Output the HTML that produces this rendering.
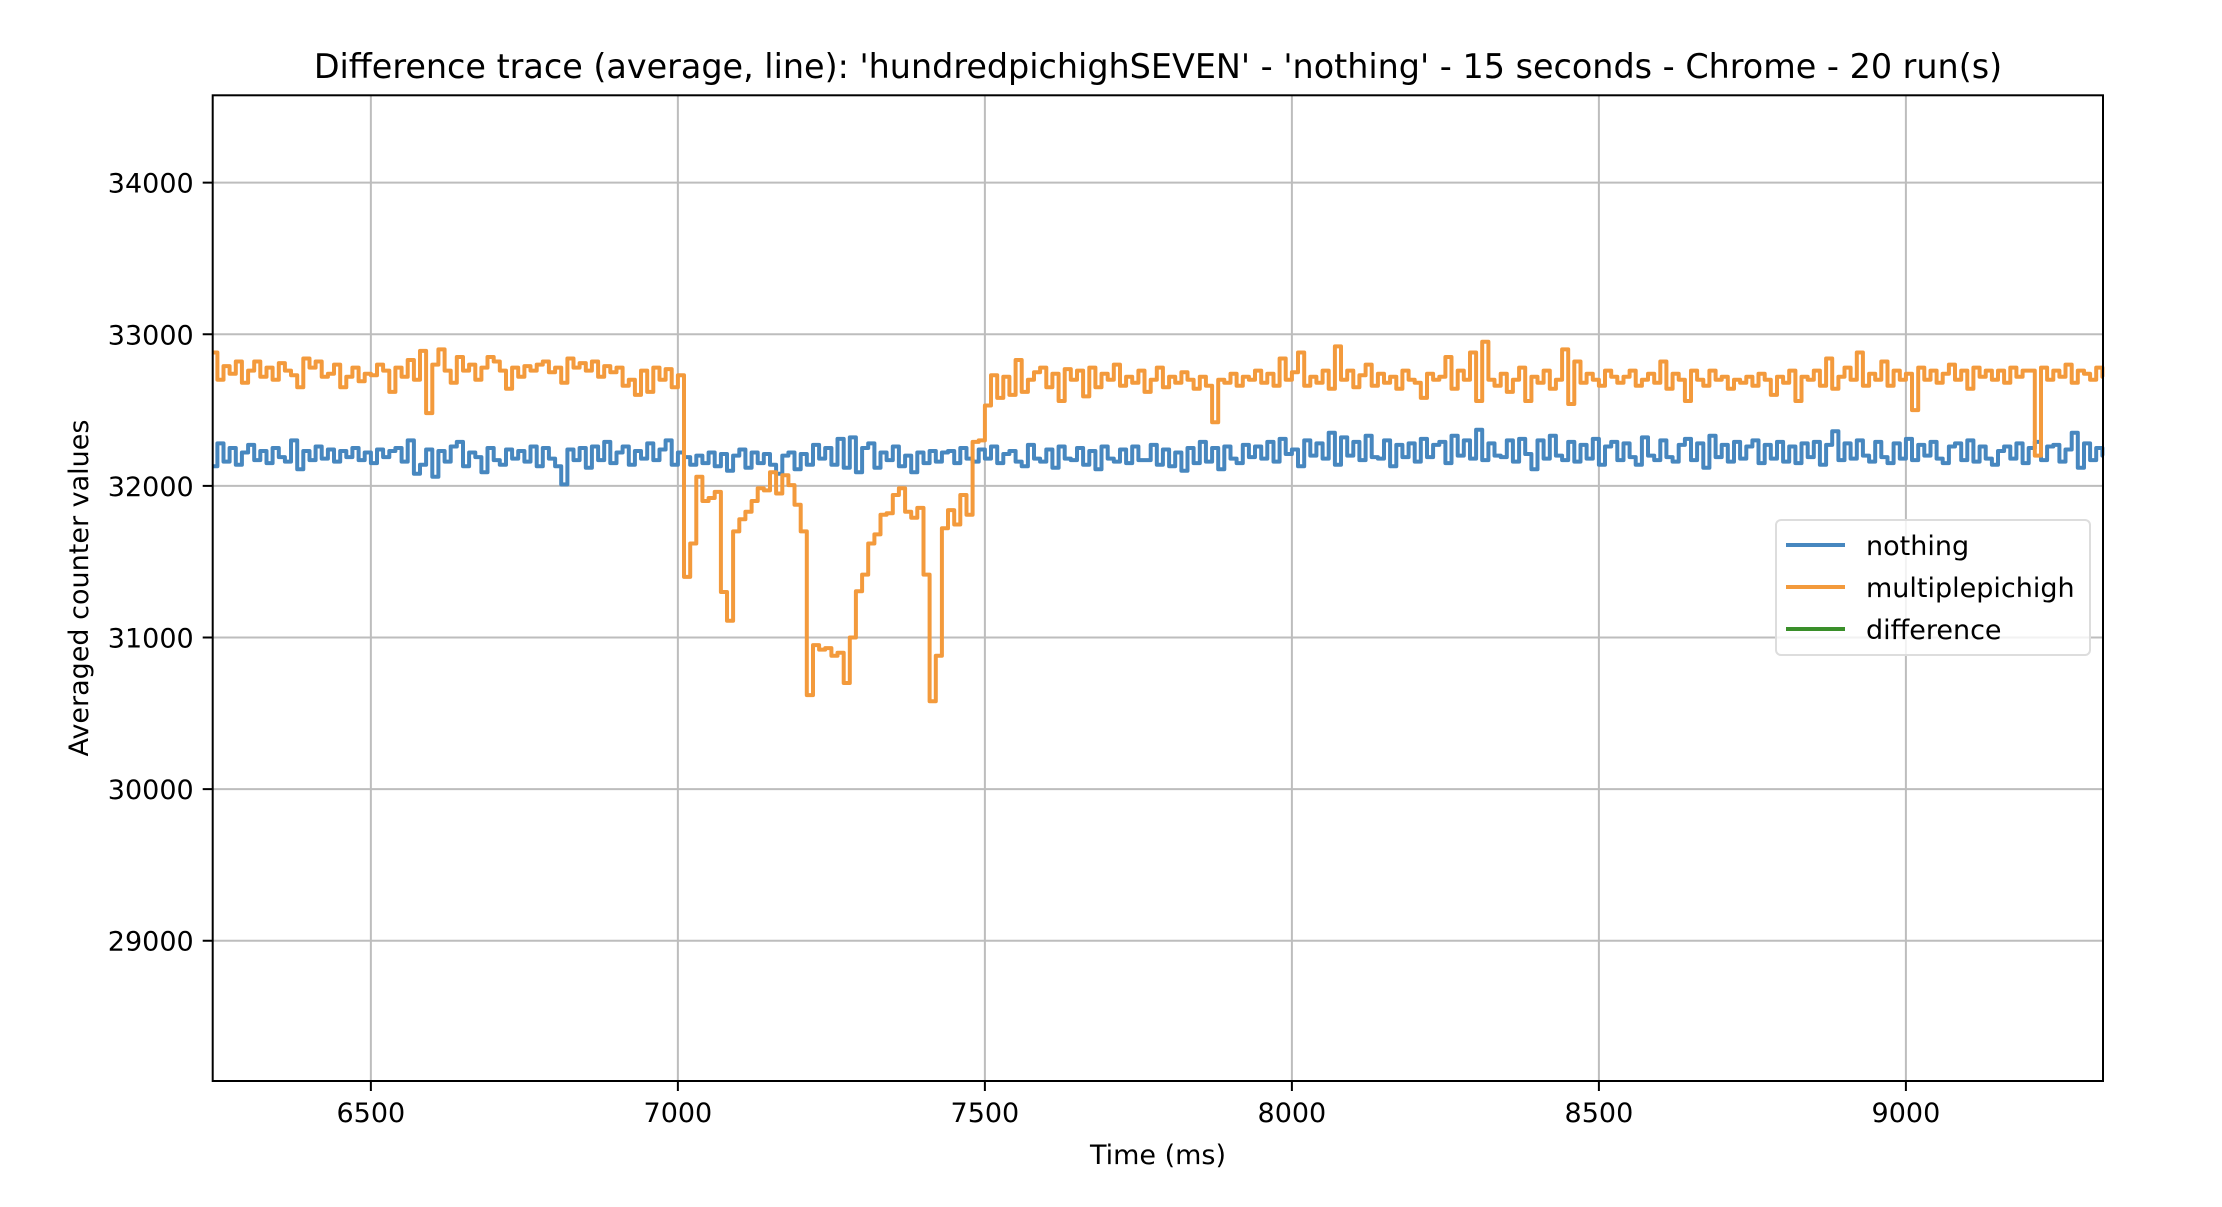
<!DOCTYPE html>
<html><head><meta charset="utf-8"><style>
html,body{margin:0;padding:0;background:#fff;}
svg text{font-family:"DejaVu Sans","Liberation Sans",sans-serif;fill:#000;}
</style></head><body>
<svg id="chart" width="2222" height="1202" viewBox="0 0 2222 1202" xmlns="http://www.w3.org/2000/svg">
<rect width="2222" height="1202" fill="#fff"/>
<text x="1158" y="78" font-size="33.4" text-anchor="middle">Difference trace (average, line): 'hundredpichighSEVEN' - 'nothing' - 15 seconds - Chrome - 20 run(s)</text>
<g id="grid"></g>
<g id="series"></g>
<rect x="212.7" y="95.3" width="1890.3" height="985.7" fill="none" stroke="#000" stroke-width="2"/>
<g id="ticks"></g>
<text x="1158" y="1164" font-size="27" text-anchor="middle">Time (ms)</text>
<text transform="translate(88,588) rotate(-90)" font-size="27" text-anchor="middle">Averaged counter values</text>
<g>
<rect x="1776" y="520" width="314" height="135" rx="5" fill="#fff" fill-opacity="0.8" stroke="#ddd" stroke-width="2"/>
<g><line x1="1786" y1="545" x2="1845" y2="545" stroke="#4787bf" stroke-width="4"/><text x="1866" y="555" font-size="27">nothing</text></g>
<g><line x1="1786" y1="587" x2="1845" y2="587" stroke="#f39a3c" stroke-width="4"/><text x="1866" y="597" font-size="27">multiplepichigh</text></g>
<g><line x1="1786" y1="629" x2="1845" y2="629" stroke="#3a8f2a" stroke-width="4"/><text x="1866" y="639" font-size="27">difference</text></g>
</g>
</svg>
<script>
const startTime = 6240;
const stepMs = 10;
const xTicks = [6500, 7000, 7500, 8000, 8500, 9000];
const yTicks = [29000, 30000, 31000, 32000, 33000, 34000];
const nothingValues = [
32130,32280,32160,32250,32140,32220,32270,32170,32230,32150,
32250,32190,32160,32300,32110,32230,32170,32260,32180,32240,
32160,32230,32190,32250,32170,32220,32150,32240,32190,32230,
32250,32160,32300,32080,32140,32240,32060,32230,32160,32260,
32290,32130,32220,32190,32090,32250,32170,32140,32240,32180,
32230,32160,32260,32130,32250,32180,32130,32010,32240,32170,
32250,32120,32260,32170,32290,32150,32220,32260,32140,32230,
32180,32280,32170,32240,32300,32140,32220,32190,32140,32200,
32150,32220,32130,32210,32100,32200,32240,32120,32220,32150,
32210,32140,32080,32200,32220,32110,32210,32140,32270,32180,
32250,32140,32310,32120,32320,32090,32250,32280,32120,32220,
32170,32260,32130,32200,32090,32220,32150,32230,32160,32220,
32230,32150,32250,32180,32160,32240,32180,32260,32150,32210,
32230,32160,32130,32270,32180,32160,32240,32120,32260,32180,
32170,32250,32140,32230,32110,32260,32180,32160,32240,32150,
32260,32170,32170,32270,32140,32240,32130,32220,32100,32250,
32150,32290,32160,32250,32110,32260,32180,32150,32270,32190,
32260,32180,32290,32160,32310,32210,32240,32130,32300,32200,
32280,32180,32350,32140,32320,32200,32290,32170,32330,32190,
32180,32300,32130,32270,32190,32280,32160,32310,32190,32270,
32290,32150,32330,32200,32300,32180,32370,32170,32280,32200,
32190,32300,32160,32310,32210,32110,32300,32180,32330,32200,
32170,32290,32160,32270,32180,32310,32140,32260,32290,32170,
32280,32190,32140,32320,32200,32170,32300,32190,32160,32270,
32310,32170,32280,32120,32330,32190,32270,32160,32290,32180,
32260,32300,32150,32270,32180,32290,32160,32260,32150,32280,
32190,32290,32140,32270,32360,32170,32280,32180,32300,32200,
32160,32290,32190,32150,32280,32180,32310,32170,32270,32200,
32290,32180,32150,32260,32280,32170,32300,32160,32260,32180,
32140,32230,32260,32180,32280,32150,32250,32290,32170,32260,
32270,32160,32240,32350,32120,32280,32170,32250,32200];
const multipleValues = [
32880,32700,32790,32740,32820,32680,32760,32820,32720,32780,
32700,32810,32760,32730,32650,32840,32780,32820,32720,32740,
32800,32650,32720,32780,32690,32740,32730,32800,32760,32620,
32780,32720,32830,32700,32890,32480,32800,32900,32760,32680,
32850,32760,32800,32700,32780,32850,32820,32760,32640,32780,
32720,32790,32760,32800,32820,32750,32780,32680,32840,32780,
32810,32760,32820,32720,32790,32750,32780,32660,32700,32600,
32760,32620,32780,32700,32770,32650,32730,31400,31620,32060,
31900,31920,31960,31300,31110,31700,31780,31830,31900,31985,
31970,32090,31950,32070,32005,31875,31700,30620,30950,30920,
30930,30880,30900,30700,31000,31305,31415,31620,31680,31810,
31820,31940,31985,31830,31790,31855,31415,30580,30880,31720,
31840,31745,31940,31810,32290,32300,32530,32730,32580,32720,
32600,32830,32620,32700,32750,32780,32650,32740,32560,32770,
32700,32760,32590,32780,32650,32740,32700,32800,32660,32720,
32680,32760,32620,32700,32780,32650,32720,32680,32750,32700,
32640,32720,32660,32420,32700,32680,32740,32660,32720,32700,
32760,32680,32740,32660,32840,32700,32750,32880,32660,32720,
32680,32760,32640,32920,32700,32760,32650,32730,32800,32660,
32740,32680,32720,32640,32760,32700,32680,32580,32740,32700,
32720,32850,32640,32760,32700,32880,32560,32950,32700,32660,
32740,32620,32700,32780,32560,32720,32680,32760,32640,32700,
32900,32540,32820,32680,32740,32700,32660,32760,32720,32680,
32720,32760,32660,32700,32740,32680,32820,32640,32740,32700,
32560,32760,32700,32660,32760,32700,32720,32640,32700,32680,
32720,32660,32740,32700,32600,32720,32680,32760,32560,32720,
32700,32760,32660,32840,32640,32720,32780,32700,32880,32660,
32740,32700,32820,32660,32760,32700,32740,32500,32780,32700,
32760,32680,32740,32800,32700,32760,32640,32780,32720,32760,
32700,32760,32680,32780,32720,32760,32760,32200,32780,32700,
32760,32720,32800,32680,32760,32740,32700,32780,32720];

const L=212.7,R=2103,T=95.3,B=1081;
const x0=6242.4,x1=9321,y0=28075,y1=34576;
function xs(t){return L+(t-x0)/(x1-x0)*(R-L);}
function ys(v){return B-(v-y0)/(y1-y0)*(B-T);}
const NS='http://www.w3.org/2000/svg';
const grid=document.getElementById('grid'),ticks=document.getElementById('ticks'),series=document.getElementById('series');
function mk(tag,attrs,parent){const e=document.createElementNS(NS,tag);for(const k in attrs)e.setAttribute(k,attrs[k]);parent.appendChild(e);return e;}
xTicks.forEach(t=>{
  const X=xs(t);
  const g=mk('line',{x1:X,x2:X,y1:T,y2:B,stroke:'#bdbdbd','stroke-width':2},grid);
  
  
  mk('line',{x1:X,x2:X,y1:B,y2:B+10,stroke:'#000','stroke-width':2},ticks);
  const tx=mk('text',{x:X,y:B+41,'font-size':27,'text-anchor':'middle'},ticks);
  tx.textContent=t;
  
  
});
yTicks.forEach(v=>{
  const Y=ys(v);
  const g=mk('line',{x1:L,x2:R,y1:Y,y2:Y,stroke:'#bdbdbd','stroke-width':2},grid);
  
  
  mk('line',{x1:L-10,x2:L,y1:Y,y2:Y,stroke:'#000','stroke-width':2},ticks);
  const tx=mk('text',{x:L-19,y:Y+10,'font-size':27,'text-anchor':'end'},ticks);
  tx.textContent=v;
  
  
});
function stepPath(vals){
  let d='';
  vals.forEach((v,i)=>{
    const t=Math.max(x0,startTime+i*stepMs), tn=Math.min(x1,startTime+(i+1)*stepMs);
    const Y=ys(v).toFixed(1);
    d+=(i===0?'M':'L')+xs(t).toFixed(1)+','+Y+'L'+xs(tn).toFixed(1)+','+Y;
  });
  return d;
}
const p1=mk('path',{d:stepPath(nothingValues),fill:'none',stroke:'#4787bf','stroke-width':4,'stroke-linejoin':'round'},series);


const p2=mk('path',{d:stepPath(multipleValues),fill:'none',stroke:'#f39a3c','stroke-width':4,'stroke-linejoin':'round'},series);


</script>
</body></html>
